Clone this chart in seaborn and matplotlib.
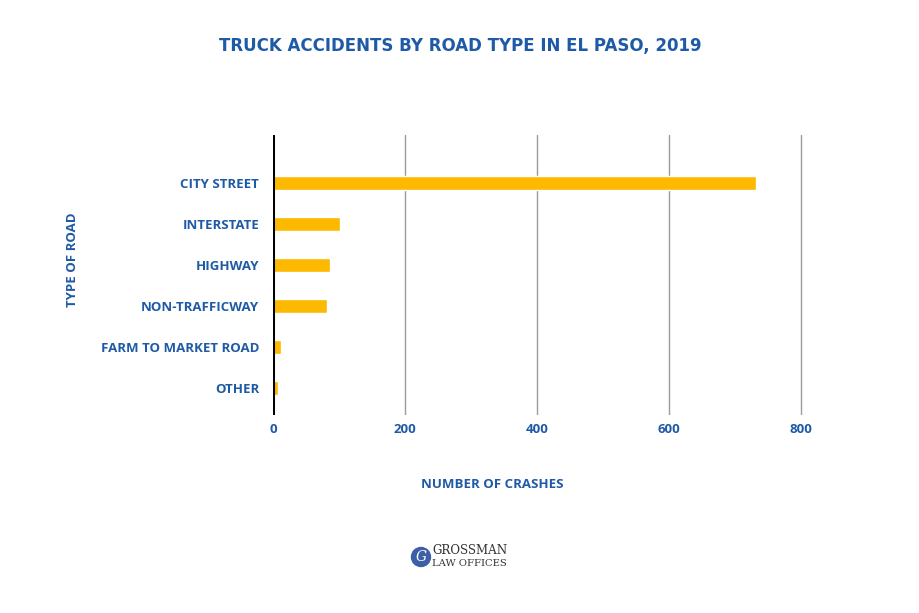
import matplotlib
matplotlib.use("Agg")
import matplotlib.pyplot as plt
import seaborn as sns
import pandas as pd
from matplotlib.patches import Ellipse

road_types = ["CITY STREET", "INTERSTATE", "HIGHWAY", "NON-TRAFFICWAY",
              "FARM TO MARKET ROAD", "OTHER"]
crashes = [732, 101, 87, 82, 12, 7]
x_ticks = [0, 200, 400, 600, 800]

blue = "#1f5aa6"
gold = "#fcb900"

sns.set_style("white")
plt.rcParams['font.family'] = ['Open Sans', 'DejaVu Sans']

df = pd.DataFrame({"road": road_types, "crashes": crashes})

# axes spans 0..820 on x, so 800 gridline sits inside
x0, x800 = 273, 801
px_per = (x800 - x0) / 800
right = x0 + 820 * px_per
fig = plt.figure(figsize=(9.2, 6.13), dpi=100)
ax = fig.add_axes([x0 / 920, 1 - 415 / 613, (right - x0) / 920, (415 - 135) / 613])

sns.barplot(data=df, x="crashes", y="road", color=gold, width=0.34,
            saturation=1, ax=ax, zorder=3)

ax.set_xlim(0, 820)
ax.set_ylim(5.66, -1.17)
ax.set_xticks(x_ticks)
ax.set_xticklabels([str(t) for t in x_ticks])
for t in x_ticks[1:]:
    ax.axvline(t, color="#9a9a9a", lw=1, zorder=1)
ax.axvline(0, color="black", lw=2.2, zorder=4)

for s in ax.spines.values():
    s.set_visible(False)
ax.tick_params(axis="both", length=0)
ax.tick_params(axis="y", pad=10)
ax.tick_params(axis="x", pad=6)
for lab in ax.get_yticklabels() + ax.get_xticklabels():
    lab.set_color(blue)
    lab.set_fontweight("bold")
    lab.set_fontsize(9.5)

w = right - x0
ax.set_xlabel("NUMBER OF CRASHES", color=blue, fontweight="bold", fontsize=9.5, labelpad=0)
ax.xaxis.set_label_coords((492 - x0) / w, -(478 - 415) / (415 - 135))
ax.set_ylabel("TYPE OF ROAD", color=blue, fontweight="bold", fontsize=9.5)
ax.yaxis.set_label_coords(-(x0 - 79) / w, (415 - 260) / (415 - 135))

fig.text(0.5, 1 - 46 / 613, "TRUCK ACCIDENTS BY ROAD TYPE IN EL PASO, 2019",
         ha="center", va="center", color=blue, fontweight="bold", fontsize=12,
         family=["DejaVu Sans"])

# logo
fig.patches.append(Ellipse((421 / 920, 1 - 557 / 613), 19 / 920, 19 / 613,
                           transform=fig.transFigure, color="#3d5fa8"))
fig.text(421 / 920, 1 - 557 / 613, "G", ha="center", va="center", color="white",
         fontsize=10, family="DejaVu Serif", style="italic")
fig.text(432 / 920, 1 - 551 / 613, "GROSSMAN", ha="left", va="center",
         color="#333333", fontsize=8.6, family="DejaVu Serif")
fig.text(432 / 920, 1 - 563 / 613, "LAW OFFICES", ha="left", va="center",
         color="#333333", fontsize=7.2, family="DejaVu Serif")

fig.savefig("out.png", dpi=100, facecolor="white")
